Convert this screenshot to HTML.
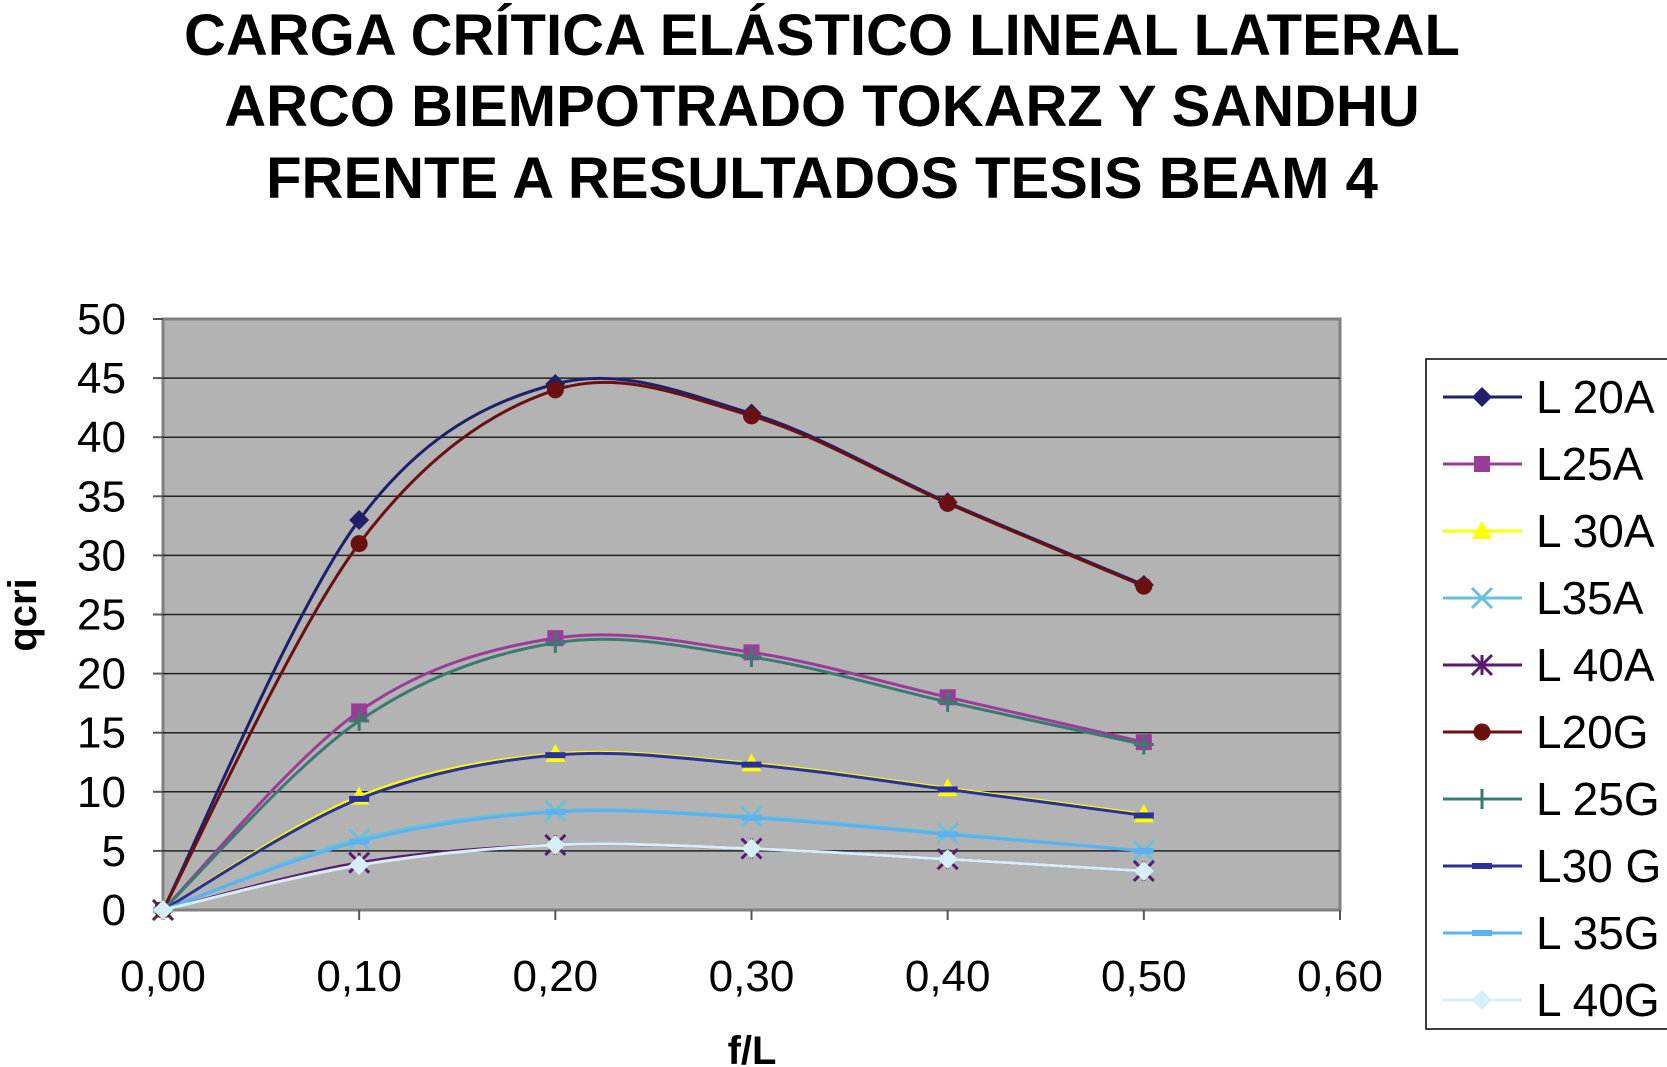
<!DOCTYPE html>
<html><head><meta charset="utf-8"><style>
html,body{margin:0;padding:0;background:#fff;}
svg{display:block;font-family:"Liberation Sans",Arial,sans-serif;}
</style></head><body>
<svg id="chart" width="1667" height="1067" viewBox="0 0 1667 1067">
<g font-weight="bold" font-size="58" text-anchor="middle" fill="#000">
<text x="822" y="55">CARGA CRÍTICA ELÁSTICO LINEAL LATERAL</text>
<text x="822" y="126">ARCO BIEMPOTRADO TOKARZ Y SANDHU</text>
<text x="822" y="198">FRENTE A RESULTADOS TESIS BEAM 4</text>
</g>
<rect x="163" y="319" width="1177" height="591" fill="#b3b3b3" stroke="#808080" stroke-width="3"/>
<g id="grid"></g><g id="axes"></g><g id="series"></g>
<text x="0" y="0" transform="translate(36,615) rotate(-90)" text-anchor="middle" font-weight="bold" font-size="40">qcri</text>
<text x="752" y="1064" text-anchor="middle" font-weight="bold" font-size="40">f/L</text>
<rect x="1426" y="359" width="250" height="670" fill="#fff" stroke="#000" stroke-width="1.5"/>
<g id="legend"></g>
</svg>
<script>
const xValues=[0,0.1,0.2,0.3,0.4,0.5];
const yTicks=[0,5,10,15,20,25,30,35,40,45,50];
const xTicks=[0,0.1,0.2,0.3,0.4,0.5,0.6];
const seriesNames=["L 20A","L25A","L 30A","L35A","L 40A","L20G","L 25G","L30 G","L 35G","L 40G"];
const s_L20A=[0,33,44.5,42,34.5,27.5];
const s_L25A=[0,16.8,23,21.8,18,14.2];
const s_L30A=[0,9.6,13.2,12.4,10.3,8.1];
const s_L35A=[0,6,8.4,7.9,6.5,5];
const s_L40A=[0,4,5.5,5.2,4.3,3.3];
const s_L20G=[0,31,44,41.8,34.4,27.4];
const s_L25G=[0,16,22.6,21.4,17.6,14];
const s_L30G=[0,9.4,13.1,12.3,10.2,8];
const s_L35G=[0,5.8,8.3,7.8,6.4,5];
const s_L40G=[0,3.8,5.5,5.2,4.3,3.3];
const seriesData=[s_L20A,s_L25A,s_L30A,s_L35A,s_L40A,s_L20G,s_L25G,s_L30G,s_L35G,s_L40G];
const colors=["#1f1f6b","#993d99","#ffff00","#66c2d6","#5a1a6e","#6b1010","#3a7a70","#2a2f9e","#5cb2f0","#d6eef7"];
const markers=["diamond","square","triangle","x","star","circle","plus","dash","dash","diamond"];
const X0=163,X1=1340,Y0=910,Y1=319;
const xs=v=>X0+(v/0.6)*(X1-X0);
const ys=v=>Y0-(v/50)*(Y0-Y1);
const NS="http://www.w3.org/2000/svg";
function mk(t,a,p){const e=document.createElementNS(NS,t);for(const k in a)e.setAttribute(k,a[k]);p.appendChild(e);return e;}
const grid=document.getElementById('grid'),axes=document.getElementById('axes'),ser=document.getElementById('series'),leg=document.getElementById('legend');
yTicks.forEach(t=>{
 if(t>0&&t<50){const l=mk('line',{x1:X0,x2:X1,y1:ys(t),y2:ys(t),stroke:'#222','stroke-width':1.5},grid);
 
 }
 const tk=mk('line',{x1:X0-10,x2:X0,y1:ys(t),y2:ys(t),stroke:'#555','stroke-width':2},axes);
 
 
 const tx=mk('text',{x:126,y:ys(t)+15,'text-anchor':'end','font-size':44},axes);tx.textContent=t;
 
 
});
xTicks.forEach(t=>{
 const tk=mk('line',{x1:xs(t),x2:xs(t),y1:Y0,y2:Y0+10,stroke:'#555','stroke-width':2},axes);
 
 
 const tx=mk('text',{x:xs(t),y:991,'text-anchor':'middle','font-size':44},axes);tx.textContent=t.toFixed(2).replace('.',',');
 
 
});
function smooth(pts){let d=`M${pts[0][0]},${pts[0][1]}`;for(let i=0;i<pts.length-1;i++){const p0=pts[Math.max(i-1,0)],p1=pts[i],p2=pts[i+1],p3=pts[Math.min(i+2,pts.length-1)];
 const c1=[p1[0]+(p2[0]-p0[0])/6,p1[1]+(p2[1]-p0[1])/6],c2=[p2[0]-(p3[0]-p1[0])/6,p2[1]-(p3[1]-p1[1])/6];
 d+=` C${c1[0]},${c1[1]} ${c2[0]},${c2[1]} ${p2[0]},${p2[1]}`;}return d;}
function marker(type,x,y,c,g,s){
 let e;
 if(type==='diamond')e=mk('polygon',{points:`${x},${y-s} ${x+s},${y} ${x},${y+s} ${x-s},${y}`,fill:c},g);
 else if(type==='square')e=mk('rect',{x:x-s*0.8,y:y-s*0.8,width:s*1.6,height:s*1.6,fill:c},g);
 else if(type==='triangle')e=mk('polygon',{points:`${x},${y-s} ${x+s},${y+s*0.8} ${x-s},${y+s*0.8}`,fill:c},g);
 else if(type==='circle')e=mk('circle',{cx:x,cy:y,r:s*0.85,fill:c},g);
 else if(type==='x')e=mk('path',{d:`M${x-s},${y-s}L${x+s},${y+s}M${x-s},${y+s}L${x+s},${y-s}`,stroke:c,'stroke-width':3},g);
 else if(type==='star')e=mk('path',{d:`M${x-s},${y-s}L${x+s},${y+s}M${x-s},${y+s}L${x+s},${y-s}M${x},${y-s}L${x},${y+s}`,stroke:c,'stroke-width':3},g);
 else if(type==='plus')e=mk('path',{d:`M${x-s},${y}L${x+s},${y}M${x},${y-s}L${x},${y+s}`,stroke:c,'stroke-width':3},g);
 else e=mk('rect',{x:x-s,y:y-3,width:s*2,height:6,fill:c},g);
 return e;
}
seriesData.forEach((vals,i)=>{
 const g=mk('g',{},ser);
 
 
 const pts=vals.map((v,j)=>[xs(xValues[j]),ys(v)]);
 mk('path',{d:smooth(pts),fill:'none',stroke:colors[i],'stroke-width':3},g);
 pts.forEach(p=>{const m=marker(markers[i],p[0],p[1],colors[i],g,10);
  
  });
 const ly=397+i*67;
 const lg=mk('g',{},leg);
 
 
 mk('line',{x1:1443,x2:1522,y1:ly,y2:ly,stroke:colors[i],'stroke-width':3},lg);
 marker(markers[i],1482,ly,colors[i],lg,10);
 const t=mk('text',{x:1536,y:ly+16,'font-size':46},lg);t.textContent=seriesNames[i];
});
</script>
</body></html>
